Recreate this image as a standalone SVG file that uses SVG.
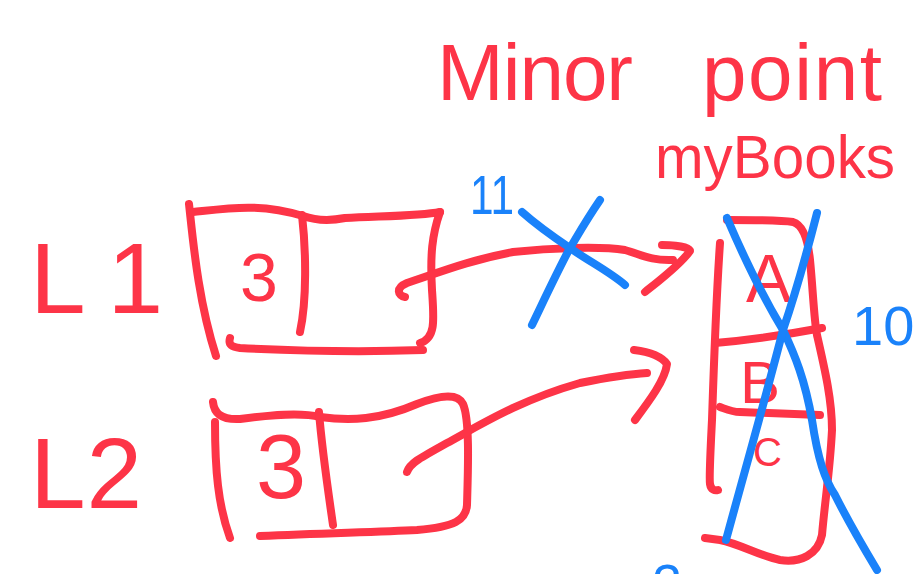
<svg xmlns="http://www.w3.org/2000/svg" width="920" height="574" viewBox="0 0 920 574">
<style>
.r{fill:none;stroke:#FD3447;stroke-width:8;stroke-linecap:round;stroke-linejoin:round}
.b{fill:none;stroke:#1A82FA;stroke-width:8;stroke-linecap:round;stroke-linejoin:round}
.rt{fill:#FD3447;font-family:"Liberation Sans",Arial,sans-serif}
.bt{fill:#1A82FA;font-family:"Liberation Sans",Arial,sans-serif}
</style>
<rect width="920" height="574" fill="#FFFFFF"/>
<g id="title">
<text class="rt" font-size="80" y="100"><tspan x="437" textLength="196" lengthAdjust="spacing">Minor</tspan><tspan x="702" textLength="180" lengthAdjust="spacing">point</tspan></text>
</g>
<g id="myBooks-label">
<text class="rt" font-size="62" x="655" y="178" textLength="240" lengthAdjust="spacingAndGlyphs">myBooks</text>
</g>
<g id="node-L1">
<text class="rt" font-size="100" x="30" y="313" textLength="133" lengthAdjust="spacing">L1</text>
<path class="r" d="M189,204 C193,240 198,300 216,356"/>
<path class="r" d="M193,212 C230,208 260,203 303,216 C320,222 335,220 345,218 C380,216 420,216 440,212"/>
<path class="r" d="M440,212 C432,235 430,255 432,290 C434,320 436,338 420,343"/>
<path class="r" d="M230,338 C228,345 232,347 240,348 C300,351 370,352 423,350"/>
<path class="r" d="M302,215 C306,250 307,300 300,332"/>
<text class="rt" font-size="68" x="240" y="301">3</text>
</g>
<g id="node-L2">
<text class="rt" font-size="100" x="30" y="508" textLength="112" lengthAdjust="spacing">L2</text>
<path class="r" d="M213,402 C214,412 220,420 240,419 C270,415 300,412 320,417 C350,421 380,420 417,404 C440,395 458,393 463,404 C470,420 468,470 467,505 C466,520 455,527 417,530 C380,532 330,533 260,536"/>
<path class="r" d="M215,422 C215,470 218,505 230,538"/>
<path class="r" d="M319,412 C322,450 328,490 333,525"/>
<text class="rt" font-size="90" x="256" y="498">3</text>
</g>
<g id="node-myBooks">
<path class="r" d="M727,220 C750,220 780,220 793,222 C803,225 808,240 810,260 C813,290 814,320 817,335 C825,370 832,400 832,430 C830,470 825,500 822,535 C818,555 800,563 780,560 C760,556 740,544 720,540 L705,538"/>
<path class="r" d="M720,243 C716,300 714,360 712,420 C710,460 709,478 710,484 C711,490 715,491 718,490"/>
<path class="r" d="M715,343 C750,340 790,334 822,328"/>
<path class="r" d="M720,407 C728,410 732,412 740,412 C770,413 800,414 820,415"/>
<text class="rt" font-size="68" x="746" y="302">A</text>
<text class="rt" font-size="60" x="740" y="403">B</text>
<text class="rt" font-size="40" x="753" y="466">C</text>
</g>
<g id="connectors">
<path class="r" d="M405,297 C398,296 395,288 407,283 C440,272 470,260 513,252 C550,248 600,246 625,250 C640,254 650,261 673,260"/>
<path class="r" d="M662,245 C675,245 690,247 690,251 C680,265 660,280 645,292"/>
<path class="r" d="M407,472 C410,463 420,458 447,443 C480,425 520,400 580,383 C610,377 630,374 647,373"/>
<path class="r" d="M634,350 C650,352 662,357 667,364 C665,380 650,400 635,420"/>
</g>
<g id="annotations">
<path class="b" d="M522,212 C540,228 555,238 570,248 C590,262 610,272 625,285"/>
<path class="b" d="M600,200 C585,222 575,240 570,248 C558,270 545,298 532,325"/>
<path class="b" d="M727,218 C745,260 765,300 783,330 C795,355 805,380 812,420 C818,460 825,480 835,495 C850,525 865,550 877,570"/>
<path class="b" d="M817,213 C805,260 795,295 783,330 C765,400 745,470 726,540"/>
<text class="bt" font-size="56" x="470" y="214" textLength="44" lengthAdjust="spacingAndGlyphs">11</text>
<text class="bt" font-size="56" x="852" y="345">10</text>
<text class="bt" font-size="54" x="652" y="602">2</text>
</g>
</svg>
